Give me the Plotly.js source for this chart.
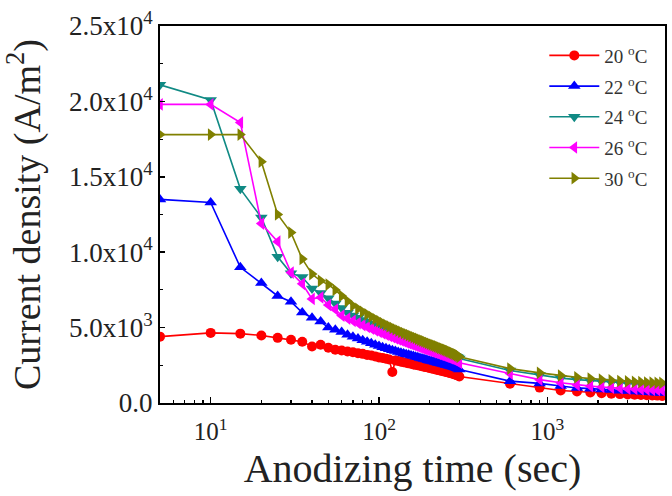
<!DOCTYPE html>
<html>
<head>
<meta charset="utf-8">
<script src="https://cdn.plot.ly/plotly-3.0.1.min.js"></script>
<style>
  html, body { margin: 0; padding: 0; background: #fff; }
  #chart { width: 672px; height: 496px; }
</style>
</head>
<body>
<div id="chart"></div>
<script>
// Anodizing time (s): every 5 s up to 300 s, then every 300 s
const timeSec = [
  5, 10, 15, 20, 25, 30, 35, 40, 45, 50,
  55, 60, 65, 70, 75, 80, 85, 90, 95, 100,
  105, 110, 115, 120, 125, 130, 135, 140, 145, 150,
  155, 160, 165, 170, 175, 180, 185, 190, 195, 200,
  205, 210, 215, 220, 225, 230, 235, 240, 245, 250,
  255, 260, 265, 270, 275, 280, 285, 290, 295, 300,
  600, 900, 1200, 1500, 1800, 2100, 2400, 2700, 3000, 3300, 3600, 3900, 4200, 4500, 4800
];

// Current density (A/m^2) at each bath temperature
const j20C = [
  4400, 4650, 4600, 4480, 4320, 4190, 4060, 3750, 3860, 3660,
  3530, 3480, 3420, 3370, 3300, 3260, 3190, 3150, 3090, 3020,
  2980, 2930, 2890, 2060, 2820, 2780, 2740, 2700, 2670, 2630,
  2600, 2560, 2530, 2500, 2470, 2440, 2410, 2380, 2350, 2320,
  2290, 2270, 2240, 2210, 2190, 2160, 2140, 2110, 2090, 2060,
  2040, 2010, 1990, 1960, 1940, 1910, 1880, 1850, 1820, 1760,
  1280, 1020, 830, 760, 700, 650, 620, 590, 570, 550, 530, 510, 500, 490, 470
];
const j22C = [
  13500, 13300, 9000, 7950, 7100, 6720, 6000, 5650, 5400, 5000,
  4850, 4700, 4530, 4400, 4270, 4160, 4060, 3960, 3870, 3780,
  3700, 3630, 3560, 3500, 3440, 3390, 3340, 3290, 3240, 3200,
  3150, 3110, 3070, 3030, 2990, 2950, 2910, 2880, 2840, 2810,
  2780, 2750, 2720, 2690, 2660, 2630, 2600, 2580, 2550, 2520,
  2500, 2470, 2450, 2420, 2400, 2370, 2340, 2310, 2270, 2220,
  1450, 1300, 1130, 1000, 950, 900, 860, 820, 790, 760, 740, 720, 700, 680, 660
];
const j24C = [
  21100, 20100, 14200, 12300, 9700, 8600, 8350, 7600, 7300, 6950,
  6600, 6300, 5980, 5800, 5650, 5500, 5380, 5260, 5150, 5050,
  4950, 4860, 4780, 4700, 4620, 4550, 4480, 4420, 4350, 4290,
  4230, 4170, 4110, 4060, 4000, 3950, 3900, 3850, 3800, 3750,
  3710, 3670, 3630, 3590, 3550, 3510, 3470, 3430, 3400, 3360,
  3320, 3290, 3250, 3210, 3180, 3140, 3100, 3060, 3020, 2950,
  2150, 1850, 1650, 1550, 1480, 1420, 1380, 1350, 1330, 1310, 1290, 1280, 1270, 1260, 1250
];
const j26C = [
  19800, 19800, 18600, 11900, 10700, 8650, 7900, 6900, 7000, 6500,
  6200, 5800, 5600, 5450, 5300, 5160, 5040, 4930, 4820, 4720,
  4620, 4530, 4450, 4370, 4290, 4220, 4150, 4080, 4020, 3960,
  3900, 3850, 3790, 3740, 3690, 3640, 3590, 3550, 3500, 3460,
  3420, 3380, 3340, 3300, 3260, 3220, 3190, 3150, 3120, 3080,
  3050, 3010, 2980, 2940, 2910, 2870, 2830, 2790, 2740, 2660,
  1950, 1550, 1340, 1200, 1120, 1060, 1010, 980, 950, 930, 910, 890, 880, 870, 860
];
const j30C = [
  17800, 17800, 17800, 16000, 12500, 11300, 9550, 8550, 8100, 7850,
  7500, 7100, 6750, 6450, 6250, 6050, 5880, 5720, 5570, 5430,
  5300, 5190, 5080, 4980, 4890, 4800, 4720, 4640, 4570, 4500,
  4430, 4370, 4310, 4250, 4190, 4140, 4080, 4030, 3980, 3930,
  3880, 3840, 3790, 3750, 3700, 3660, 3620, 3580, 3540, 3500,
  3460, 3420, 3380, 3340, 3300, 3260, 3220, 3180, 3140, 3060,
  2280, 2000, 1820, 1700, 1620, 1550, 1500, 1460, 1430, 1400, 1380, 1360, 1350, 1340, 1330
];

const seriesNames = ['20 <sup>o</sup>C', '22 <sup>o</sup>C', '24 <sup>o</sup>C', '26 <sup>o</sup>C', '30 <sup>o</sup>C'];
const seriesValues = [j20C, j22C, j24C, j26C, j30C];
const seriesColors = ['#ff0000', '#0000ff', '#108a84', '#ff00ff', '#808000'];
const seriesSymbols = ['circle', 'triangle-up', 'triangle-down', 'triangle-left', 'triangle-right'];

const yTickVals = [0, 5000, 10000, 15000, 20000, 25000];
const yTickText = ['0.0', '5.0x10<sup>3</sup>', '1.0x10<sup>4</sup>', '1.5x10<sup>4</sup>', '2.0x10<sup>4</sup>', '2.5x10<sup>4</sup>'];
const xTickVals = [10, 100, 1000];
const xTickText = ['10<sup>1</sup>', '10<sup>2</sup>', '10<sup>3</sup>'];

const serif = '"Liberation Serif", "Times New Roman", serif';

const traces = seriesValues.map((vals, i) => ({
  type: 'scatter',
  mode: 'lines+markers',
  x: timeSec,
  y: vals,
  name: seriesNames[i],
  legendgroup: 'g' + i,
  line: { color: seriesColors[i], width: 1.6 },
  marker: { color: seriesColors[i], symbol: seriesSymbols[i], size: i === 0 ? 10 : 11 }
}));

const layout = {
  width: 672,
  height: 496,
  margin: { l: 160, r: 7, t: 26, b: 93 },
  paper_bgcolor: '#ffffff',
  plot_bgcolor: '#ffffff',
  font: { family: serif, color: '#222' },
  showlegend: true,
  legend: {
    x: 0.761, xanchor: 'left',
    y: 0.972, yanchor: 'top',
    bgcolor: 'rgba(0,0,0,0)',
    font: { family: serif, size: 19, color: '#333' },
    tracegroupgap: 3,
    itemwidth: 50
  },
  xaxis: {
    type: 'log',
    range: [Math.log10(5), Math.log10(5000)],
    tickvals: xTickVals,
    ticktext: xTickText,
    ticks: 'inside',
    ticklen: 6,
    tickwidth: 1.5,
    tickcolor: '#000',
    minor: { ticks: 'inside', ticklen: 3, tickwidth: 1.2, tickcolor: '#000', dtick: 'D1' },
    showline: true,
    linecolor: '#000',
    linewidth: 2,
    mirror: true,
    showgrid: false,
    zeroline: false,
    ticklabelstandoff: 5,
    tickfont: { family: serif, size: 25, color: '#222' },
    title: { text: 'Anodizing time (sec)', font: { family: serif, size: 40, color: '#222' }, standoff: 10 }
  },
  yaxis: {
    range: [0, 25000],
    tickvals: yTickVals,
    ticktext: yTickText,
    ticks: 'inside',
    ticklen: 5,
    tickwidth: 1.5,
    tickcolor: '#000',
    minor: { ticks: 'inside', ticklen: 3, tickwidth: 1.2, tickcolor: '#000', dtick: 2500 },
    showline: true,
    linecolor: '#000',
    linewidth: 2,
    mirror: true,
    showgrid: false,
    zeroline: false,
    tickfont: { family: serif, size: 27, color: '#222' },
    title: { text: 'Current density (A/m<sup>2</sup>)', font: { family: serif, size: 38, color: '#222' }, standoff: 22 }
  }
};

Plotly.newPlot('chart', traces, layout, { displayModeBar: false, staticPlot: true });
</script>
</body>
</html>
